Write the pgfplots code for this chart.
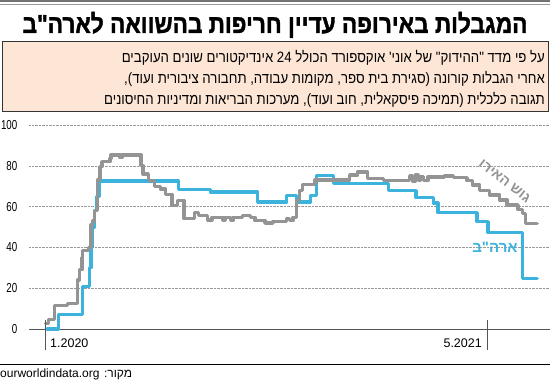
\documentclass[border=0pt]{standalone}
\usepackage{fontspec}
\usepackage{pgfplots}
\pgfplotsset{compat=1.18}
\TeXXeTstate=1
\setmainfont{Liberation Sans}
\newfontfamily\heb[Script=Hebrew]{Liberation Sans}
\newfontfamily\hebt[Script=Hebrew, FakeStretch=0.87, FakeBold=1.4]{Liberation Sans}
\newfontfamily\hebn[Script=Hebrew, FakeStretch=0.88]{Liberation Sans}
\newfontfamily\narrow[FakeStretch=0.75]{Liberation Sans}
\definecolor{bluel}{RGB}{59,179,220}
\definecolor{grayl}{RGB}{148,148,148}
\definecolor{peach}{RGB}{253,230,214}
\definecolor{tickc}{RGB}{85,85,85}

\pgfplotstableread{
d v
2 0
14 7
41 21
48 30
50 40
52 50
54 58
56 65
59 72.5
146 68.3
181 67.2
233 62.2
265 65.4
276 62.2
291 65.4
298 75.2
316 71.4
377 67.8
407 64.6
426 61.8
431 57
474 52.6
486 47.2
524 24.6
540 24.6
}\usdata

\pgfplotstableread{
d v
0 2.8
3 4.6
10 11.6
24 12.5
35 24
37 29
40 35
41 38.5
47 40
50 51
52 53
54 58
57 73
60 79.6
62 82
71 83.7
72 85.3
82 84
84 85.3
104 85.3
105 80
107 76
113 72.7
120 70
126 68.6
132 66
139 60.5
145 63
152 54
164 57.2
168 55.6
178 53.5
183 54.8
195 53.5
197 54.8
203 53.2
206 54.8
216 55.6
225 54.8
230 53.2
241 51.9
250 52.8
265 54
268 53.2
272 54.8
276 63
279 68
282 71
296 73
334 75.5
343 77
354 73.9
371 72.7
400 75
403 72.5
406 75.5
409 73
412 74.8
415 72.8
420 74.5
438 75
448 74.2
463 72.7
469 70.6
477 68
488 65.7
499 63.2
507 60.8
519 58.5
524 56.5
527 51.8
540 51.8
}\eudata

\begin{document}
\begin{tikzpicture}[x=1pt,y=1pt]
\fill[white] (0,0) rectangle (550,381);
\path[use as bounding box] (0,0) rectangle (550,381);
% top double rule
\fill[black!55] (0,378.5) rectangle (550,381);
\draw[black!40, line width=0.6pt] (0,376.3) -- (550,376.3);
% title
\node[anchor=base, inner sep=0, font=\hebt\bfseries\fontsize{26}{26}\selectfont] at (275,348) {\beginR המגבלות באירופה עדיין חריפות בהשוואה לארה"ב\endR};
% note box
\draw[fill=peach, draw=black!80, line width=0.8pt] (2,270) rectangle (548,340);
\node[anchor=base east, inner sep=0, font=\hebn\fontsize{15}{15}\selectfont] at (545,318) {\beginR על פי מדד "ההידוק" של אוני' אוקספורד הכולל \beginL 24\endL{} אינדיקטורים שונים העוקבים\endR};
\node[anchor=base east, inner sep=0, font=\hebn\fontsize{15}{15}\selectfont] at (545,297) {\beginR אחרי הגבלות קורונה (סגירת בית ספר, מקומות עבודה, תחבורה ציבורית ועוד),\endR};
\node[anchor=base east, inner sep=0, font=\hebn\fontsize{15}{15}\selectfont] at (545,276) {\beginR תגובה כלכלית (תמיכה פיסקאלית, חוב ועוד), מערכות הבריאות ומדיניות החיסונים\endR};
% source
\draw[black, line width=0.9pt] (0,17) -- (550,17);
\node[anchor=base west, inner sep=0, font=\heb\fontsize{12}{12}\selectfont] at (0,3) {\beginR מקור: \beginL ourworldindata.org\endL\endR};

\begin{axis}[
  at={(29pt,52pt)}, anchor=south west,
  scale only axis, width=521pt, height=204pt,
  xmin=-18.1, xmax=554.1, ymin=0, ymax=100,
  axis line style={draw=none},
  xtick=\empty,
  ytick={0,20,...,100},
  major tick length=0pt,
  ymajorgrids,
  grid style={black!40, densely dotted, line width=0.6pt},
  yticklabel style={anchor=east, inner sep=0pt, xshift=-11.5pt, font=\narrow\fontsize{13}{13}\selectfont},
  /pgf/number format/assume math mode=true,
  clip=false,
]
\draw[tickc, line width=0.9pt] (axis cs:-18.1,0) -- (axis cs:554.1,0);
\addplot[const plot, bluel, line width=3.3pt, line join=round, line cap=round] table[x=d, y=v] {\usdata};
\addplot[const plot, grayl, line width=3.3pt, line join=round, line cap=round] table[x=d, y=v] {\eudata};
\draw[tickc, line width=1pt] ([yshift=9pt]axis cs:0,0) -- ([yshift=-21pt]axis cs:0,0);
\draw[tickc, line width=1pt] ([yshift=9pt]axis cs:486,0) -- ([yshift=-21pt]axis cs:486,0);
\node[anchor=base west, inner sep=0, xshift=4.5pt, yshift=-18pt, font=\fontsize{12.5}{12.5}\selectfont] at (axis cs:0,0) {1.2020};
\node[anchor=base east, inner sep=0, xshift=-6pt, yshift=-18pt, font=\fontsize{12.5}{12.5}\selectfont] at (axis cs:486,0) {5.2021};
\node[inner sep=0, text=bluel, font=\heb\bfseries\fontsize{15}{15}\selectfont] at (axis cs:493.7,40.2) {\beginR ארה"ב\endR};
\node[inner sep=0, text=grayl, rotate=-38, font=\heb\bfseries\fontsize{14}{14}\selectfont] at (axis cs:504.5,72.5) {\beginR גוש האירו\endR};
\end{axis}
\end{tikzpicture}
\end{document}
